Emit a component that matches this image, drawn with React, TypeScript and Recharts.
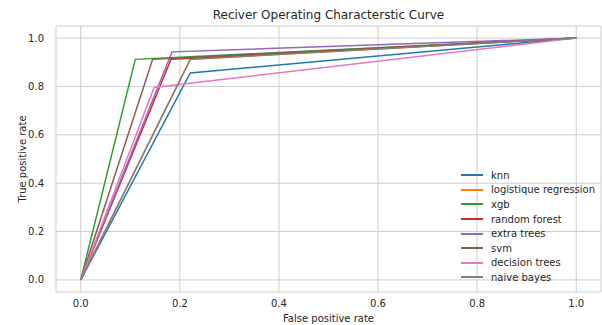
import { LineChart, Line, XAxis, YAxis, CartesianGrid } from 'recharts';

// each model's roc curve: (0,0) -> (fpr, tpr) at the threshold -> (1,1)
const models = [
  'knn',
  'logistique regression',
  'xgb',
  'random forest',
  'extra trees',
  'svm',
  'decision trees',
  'naive bayes',
];
const fprAtThreshold = [0.221, 0.221, 0.11, 0.182, 0.184, 0.145, 0.148, 0.221];
const tprAtThreshold = [0.856, 0.912, 0.912, 0.912, 0.943, 0.912, 0.796, 0.912];
const colors = ['#1f77b4', '#ff7f0e', '#2ca02c', '#d62728', '#9467bd', '#8c564b', '#e377c2', '#7f7f7f'];
const ticks = [0, 0.2, 0.4, 0.6, 0.8, 1.0];

const font = "'DejaVu Sans', sans-serif";
const textColor = '#262626';

// legend drawn by hand so recharts doesn't shrink the plot area for it
function LegendBox() {
  return (
    <div
      style={{
        position: 'absolute',
        left: 461,
        top: 168,
        fontFamily: font,
        fontSize: 10,
        color: textColor,
      }}
    >
      {models.map((name, i) => (
        <div key={name} style={{ display: 'flex', alignItems: 'center', height: 14.6 }}>
          <span style={{ width: 22, height: 2, background: colors[i], marginRight: 8 }} />
          <span>{name}</span>
        </div>
      ))}
    </div>
  );
}

export default function App() {
  const series = models.map((name, i) => ({
    name,
    color: colors[i],
    points: [
      { x: 0, y: 0 },
      { x: fprAtThreshold[i], y: tprAtThreshold[i] },
      { x: 1, y: 1 },
    ],
  }));

  return (
    <div style={{ position: 'absolute', left: 0, top: 0, width: 602, height: 325, background: '#fff' }}>
      <div
        style={{
          position: 'absolute',
          left: 56,
          width: 545,
          top: 8,
          textAlign: 'center',
          fontFamily: font,
          fontSize: 12,
          color: textColor,
        }}
      >
        Reciver Operating Characterstic Curve
      </div>
      <LineChart width={602} height={325} margin={{ top: 26, right: 1, left: 0, bottom: 0 }}>
        <CartesianGrid stroke="#cccccc" strokeWidth={1} />
        <XAxis
          type="number"
          dataKey="x"
          domain={[-0.05, 1.05]}
          ticks={ticks}
          tickFormatter={(v: number) => v.toFixed(1)}
          axisLine={false}
          tickLine={false}
          height={33}
          tick={{ fontSize: 10, fill: textColor, fontFamily: font }}
          label={{ value: 'False positive rate', position: 'insideBottom', offset: 3, fontSize: 10, fill: textColor, fontFamily: font }}
          allowDataOverflow
        />
        <YAxis
          type="number"
          dataKey="y"
          domain={[-0.05, 1.05]}
          ticks={ticks}
          tickFormatter={(v: number) => v.toFixed(1)}
          axisLine={false}
          tickLine={false}
          tickMargin={6}
          width={56}
          tick={{ fontSize: 10, fill: textColor, fontFamily: font }}
          label={{ value: 'True positive rate', angle: -90, position: 'center', dx: -6, fontSize: 10, fill: textColor, fontFamily: font }}
          allowDataOverflow
        />
        {series.map((s) => (
          <Line
            key={s.name}
            data={s.points}
            dataKey="y"
            name={s.name}
            type="linear"
            stroke={s.color}
            strokeWidth={1.5}
            dot={false}
            activeDot={false}
            isAnimationActive={false}
          />
        ))}
      </LineChart>
      <LegendBox />
    </div>
  );
}
